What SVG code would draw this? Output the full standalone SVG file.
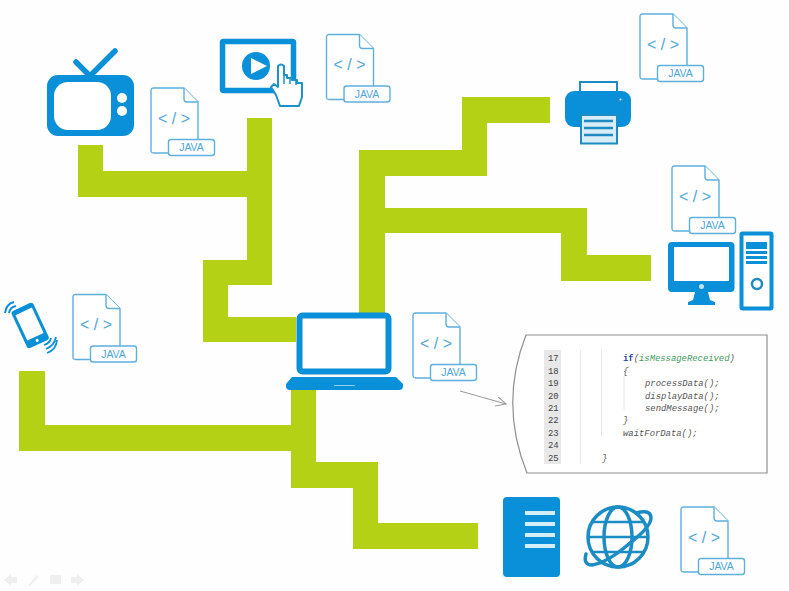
<svg xmlns="http://www.w3.org/2000/svg" width="789" height="591" viewBox="0 0 789 591">
<style>
.wire{fill:#b5d116}
.b{fill:#0a90d8}
.w{fill:#fff}
.sb{fill:none;stroke:#0a90d8}
.dl{fill:#fff;stroke:#5eb0dc;stroke-width:1.400;stroke-linejoin:round}
.code{font-family:"Liberation Sans",Arial,sans-serif;font-size:16px;fill:#4ea6d8;text-anchor:middle}
.jv{font-family:"Liberation Sans",Arial,sans-serif;font-size:10.500px;fill:#4ea6d8;text-anchor:middle}
.m{font-family:"Liberation Mono",monospace;font-size:8.900px;fill:#555;font-style:italic}
.n{font-family:"Liberation Mono",monospace;font-size:8.900px;fill:#444}
.g{stroke:#e6e6e6;stroke-width:1;fill:none}
.nav{fill:#efefef}
</style>
<defs>
<g id="doc">
<path class="dl" d="M2.500 0H33L47 14V65H2.500Q0 65 0 62.500V2.500Q0 0 2.500 0Z"/>
<path class="dl" d="M33 0V11Q33 14 36 14H47" fill="none"/>
<rect class="dl" x="17.500" y="51.500" width="46" height="16" rx="2.500"/>
<text class="jv" x="40.500" y="63.200">JAVA</text>
<text class="code" x="23" y="35.500">&lt; / &gt;</text>
</g>
<marker id="open" markerWidth="12" markerHeight="12" refX="10" refY="5" orient="auto" markerUnits="userSpaceOnUse"><path d="M0 0L10 5L0 10" fill="none" stroke="#999" stroke-width="1"/></marker>
</defs>
<rect width="789" height="591" fill="#fefefe"/>
<g id="connectors">
<path class="wire" d="M78 145H103V171H247V118H272V285H228V317H296V342H203V260H247V197H78Z"/>
<path class="wire" d="M359 313V150H462V97H550V123H487V176H385V208H587V255H651V281H561V233H385V313Z"/>
<path class="wire" d="M291 389H316V462H378V523H478V549H353V488H291V451H19V371H45V425H291Z"/>
<path d="M460 391L506 404" stroke="#999" stroke-width="1" fill="none" marker-end="url(#open)"/>
</g>
<g id="tv">
<path d="M76 62L90 76L115 51" fill="none" stroke="#0a90d8" stroke-width="5.500" stroke-linecap="round" stroke-linejoin="round"/>
<rect class="b" x="47" y="75" width="87" height="61" rx="11"/>
<rect class="w" x="54" y="82" width="57" height="48" rx="14"/>
<circle class="w" cx="122" cy="98" r="5"/><circle class="w" cx="122" cy="111" r="5"/>
</g>
<use id="doc-tv" href="#doc" x="151" y="88"/>
<g id="tablet">
<rect class="sb" x="222.500" y="41.500" width="71" height="49" rx="1" stroke-width="5.500"/>
<circle class="b" cx="256" cy="66" r="14"/>
<path class="w" d="M251 58L267 66L251 74Z"/>
<path d="M278 66Q281 63 284 66V75H287V78H292V80H297V83H302V97L299 106H280L276 95L271 87L274 84L278 87Z" fill="#fff" stroke="#1a93c8" stroke-width="2" stroke-linejoin="round"/>
<path d="M284 75V84M290 78V84M296 80V85" stroke="#1a93c8" stroke-width="1.500" fill="none"/>
</g>
<use id="doc-tablet" href="#doc" x="326.500" y="34.500"/>
<g id="printer">
<rect class="w" x="580" y="82" width="37" height="12" stroke="#1e8bc3" stroke-width="2"/>
<rect class="b" x="565" y="91" width="66" height="36" rx="9"/>
<circle class="w" cx="620.500" cy="99.500" r="1"/>
<rect x="581" y="115" width="36" height="28.500" fill="#d8edf7" stroke="#1e8bc3" stroke-width="2"/>
<path d="M584 121H613M584 128H613M584 135H613" stroke="#1e8bc3" stroke-width="2.500"/>
</g>
<use id="doc-printer" href="#doc" x="640" y="14"/>
<use id="doc-desktop" href="#doc" x="672" y="166"/>
<g id="desktop">
<rect class="b" x="668" y="242" width="66.500" height="50" rx="4"/>
<rect class="w" x="674" y="247" width="55" height="34"/>
<circle cx="701.500" cy="286.500" r="2.500" fill="#bfe3f5"/>
<path class="b" d="M695 292H708L710 300L715 302V305H688V302L693 300Z"/>
<rect class="w" x="741.500" y="233.500" width="30" height="75" rx="1" stroke="#0a90d8" stroke-width="4"/>
<rect class="b" x="746" y="242" width="21" height="7"/>
<rect class="b" x="746" y="251" width="21" height="3"/>
<rect class="b" x="746" y="256" width="21" height="3"/>
<rect class="b" x="746" y="261" width="21" height="3"/>
<circle cx="757" cy="284" r="5" fill="none" stroke="#1e8bc3" stroke-width="2.500"/>
</g>
<g id="phone">
<g transform="rotate(-25 30 325)">
<rect class="b" x="18" y="305" width="24" height="41" rx="3"/>
<rect class="w" x="21" y="310" width="18" height="28"/>
<circle class="w" cx="30" cy="342" r="1.500"/>
</g>
<path d="M5 313Q6 304 14 302M9 313Q10 307 16 306" class="sb" stroke-width="2"/>
<path d="M46 349Q54 346 56 337M44 345Q50 343 51 338M47 353Q56 350 57 340" class="sb" stroke="#1a84bc" stroke-width="1.800"/>
</g>
<use id="doc-phone" href="#doc" x="73" y="294.500"/>
<g id="laptop">
<rect class="w" x="299.500" y="315.500" width="89" height="56" rx="3" stroke="#0a90d8" stroke-width="6"/>
<path class="b" d="M292 377H396L403 384V386Q403 390 399 390H290Q286 390 286 386V384Z"/>
<path d="M334 385.500H355" stroke="#8fd0ef" stroke-width="1"/>
</g>
<use id="doc-laptop" href="#doc" x="413" y="313"/>
<g id="code-panel">
<path d="M526 335H767V473H527Q499 404 526 335Z" fill="#fff" stroke="#8f8f8f" stroke-width="1.200"/>
<rect x="544" y="350" width="17" height="114" fill="#e8e8e8"/>
<path class="g" d="M580.500 350V464M601.500 350V436M624 376V410"/>
<text class="n" x="548" y="361">17</text><text class="n" x="548" y="373.500">18</text><text class="n" x="548" y="386">19</text><text class="n" x="548" y="398.500">20</text><text class="n" x="548" y="411">21</text><text class="n" x="548" y="423">22</text><text class="n" x="548" y="435.500">23</text><text class="n" x="548" y="448">24</text><text class="n" x="548" y="460.500">25</text>
<text class="m" x="623" y="361"><tspan fill="#2a3f9f" font-style="normal" font-weight="bold">if</tspan>(<tspan fill="#3d9a5a">isMessageReceived</tspan>)</text>
<text class="m" x="623" y="373.500" font-style="normal">{</text>
<text class="m" x="645" y="386">processData();</text>
<text class="m" x="645" y="398.500">displayData();</text>
<text class="m" x="645" y="411">sendMessage();</text>
<text class="m" x="623" y="423" font-style="normal">}</text>
<text class="m" x="623" y="435.500">waitForData();</text>
<text class="m" x="602" y="460.500" font-style="normal">}</text>
</g>
<g id="server">
<rect class="b" x="503" y="497" width="57" height="80" rx="4"/>
<path d="M525 513H555M525 524H555M525 535H555M525 546H555" stroke="#d4eefa" stroke-width="4"/>
</g>
<g id="globe" fill="none" stroke="#1b8dc4" stroke-width="3.500">
<circle cx="618" cy="537" r="30"/>
<ellipse cx="618" cy="537" rx="14" ry="30"/>
<path d="M592 522H644M588 537H648M592 552H644" stroke-width="2.500"/>
<path d="M636 513Q650 509 651 517Q652 526 630 543Q607 563 592 565Q583 565 586 554" stroke-linecap="round"/>
</g>
<use id="doc-globe" href="#doc" x="681" y="507"/>
<g id="nav">
<path class="nav" d="M4 580L11 574V577H17V583H11V586Z"/>
<path class="nav" d="M28 585L37 575L39 577L30 586Z"/>
<rect class="nav" x="50" y="575" width="11" height="9"/>
<path class="nav" d="M84 580L77 574V577H71V583H77V586Z"/>
</g>
</svg>
